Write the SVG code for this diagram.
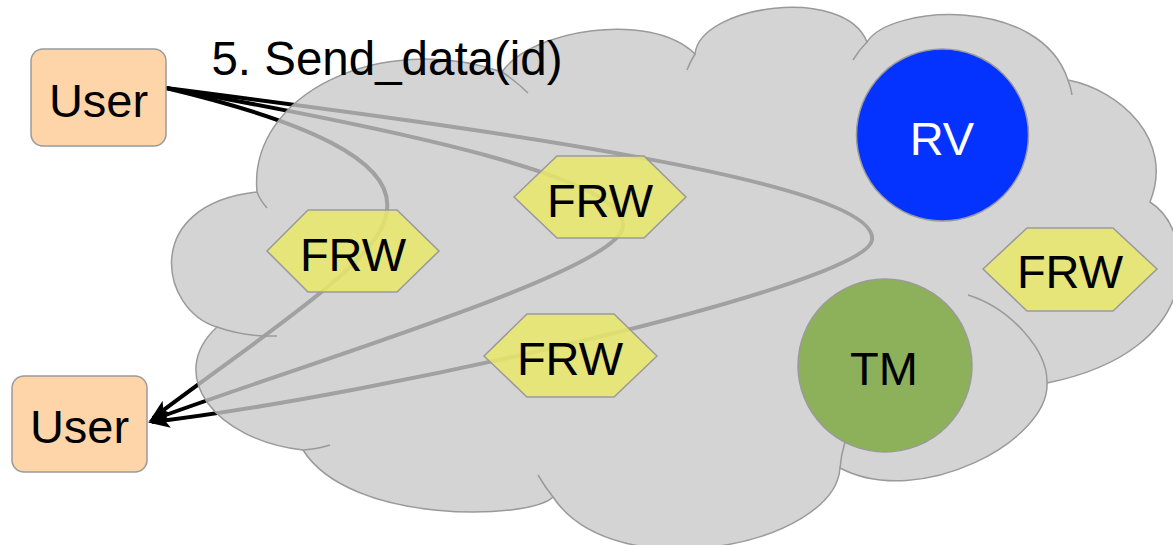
<svg xmlns="http://www.w3.org/2000/svg" width="1173" height="545" viewBox="0 0 1173 545">
<style>
text{font-family:"Liberation Sans",Arial,sans-serif;font-size:47px;text-anchor:middle;fill:#000}
.user{fill:#fdd5a8;stroke:#9a9a9a;stroke-width:1.5}
.hex{fill:#e8e76a;fill-opacity:0.85;stroke:#9a9a9a;stroke-width:1.5}
.conn{fill:none;stroke:#000;stroke-width:4;marker-end:url(#arr)}
.inner{fill:none;stroke:#9a9a9a;stroke-width:1.5}
</style>
<defs>
<marker id="arr" markerUnits="userSpaceOnUse" markerWidth="26" markerHeight="20" refX="18" refY="9" orient="auto">
<path d="M0,1 L22,9 L0,17 L5,9 Z" fill="#000"/>
</marker>
</defs>
<rect width="1173" height="545" fill="#fff"/>
<g id="connectors">
<path class="conn" d="M166,88 C300,120 400,160 386,215 C378,262 270,330 153,418"/>
<path class="conn" d="M166,88 C400,130 640,180 622,230 C605,275 300,365 152,420"/>
<path class="conn" d="M166,88 C450,125 880,180 872,240 C866,285 380,395 152,422"/>
</g>
<g id="cloud">
<path d="M257,192 C248,95 380,30 502,72 C530,30 650,10 695,54 C700,5 845,-15 867,42 C890,5 1040,-5 1068,80 C1120,90 1175,140 1150,202 C1195,230 1210,350 1047,383 C1050,440 920,510 840,468 C835,545 615,590 553,497 C530,520 350,525 303,450 C215,440 165,375 217,327 C160,310 140,205 257,192 Z" fill="#c9c9c9" fill-opacity="0.8" stroke="#9a9a9a" stroke-width="1.5"/>
<path class="inner" d="M257,192 Q260,200 267,208"/>
<path class="inner" d="M502,72 Q516,81 528,93"/>
<path class="inner" d="M695,54 Q690,62 687,70"/>
<path class="inner" d="M867,42 Q859,50 853,60"/>
<path class="inner" d="M1068,80 Q1071,88 1072,95"/>
<path class="inner" d="M1047,383 C1048,350 1010,308 968,295"/>
<path class="inner" d="M840,468 Q841,455 845,442"/>
<path class="inner" d="M553,497 Q545,487 538,475"/>
<path class="inner" d="M303,450 Q318,449 330,445"/>
<path class="inner" d="M217,327 Q245,337 277,336"/>
</g>
<g id="label">
<text x="387" y="75" style="font-size:47.5px">5. Send_data(id)</text>
</g>
<g id="user-top">
<rect class="user" x="31" y="49" width="135" height="97" rx="12"/>
<text x="98.5" y="117">User</text>
</g>
<g id="user-bottom">
<rect class="user" x="12" y="376" width="135" height="96" rx="12"/>
<text x="79.5" y="443">User</text>
</g>
<g id="rv">
<circle cx="942.5" cy="135" r="86" fill="#0433ff" stroke="#9a9a9a" stroke-width="1.5"/>
<text x="942" y="155" style="fill:#fff">RV</text>
</g>
<g id="tm">
<ellipse cx="885" cy="365.5" rx="87" ry="86.5" fill="#8db15b" stroke="#9a9a9a" stroke-width="1.5"/>
<text x="884" y="385">TM</text>
</g>
<g id="frw1">
<polygon class="hex" points="267,251 308,210 397,210 439,251 397,292 308,292"/>
<text x="353" y="271">FRW</text>
</g>
<g id="frw2">
<polygon class="hex" points="514,197 557,156 644,156 686,197 644,238 557,238"/>
<text x="600" y="217">FRW</text>
</g>
<g id="frw3">
<polygon class="hex" points="983,269 1027,228 1113,228 1157,269 1113,311 1027,311"/>
<text x="1070" y="288">FRW</text>
</g>
<g id="frw4">
<polygon class="hex" points="484,356 527,314 614,314 657,356 614,397 527,397"/>
<text x="570" y="375">FRW</text>
</g>
</svg>
